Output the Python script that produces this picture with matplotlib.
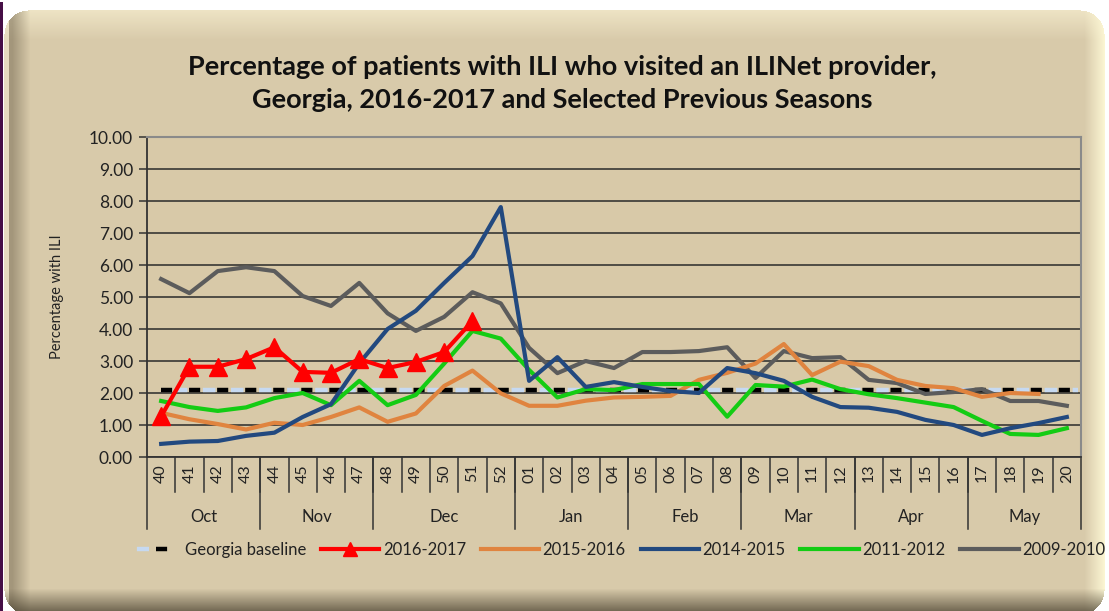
import numpy as np
import matplotlib
matplotlib.use("Agg")
import matplotlib.pyplot as plt
from matplotlib.legend_handler import HandlerTuple

# ---------------- data ----------------
weeks = ["40", "41", "42", "43", "44", "45", "46", "47", "48", "49", "50", "51", "52",
         "01", "02", "03", "04", "05", "06", "07", "08", "09", "10", "11", "12",
         "13", "14", "15", "16", "17", "18", "19", "20"]
months = ["Oct", "Nov", "Dec", "Jan", "Feb", "Mar", "Apr", "May"]
month_weeks = [4, 4, 5, 4, 4, 4, 4, 4]

baseline_value = 2.10

s2016_2017 = [1.27, 2.82, 2.82, 3.06, 3.43, 2.66, 2.63, 3.06, 2.78, 2.97, 3.28, 4.25]

s2015_2016 = [1.38, 1.18, 1.03, 0.86, 1.07, 1.00, 1.25, 1.55, 1.10, 1.36, 2.22, 2.70, 1.99,
              1.60, 1.60, 1.76, 1.86, 1.88, 1.91, 2.41, 2.63, 2.92, 3.53, 2.56, 2.98,
              2.84, 2.41, 2.22, 2.15, 1.88, 2.00, 1.97, None]

s2014_2015 = [0.41, 0.48, 0.50, 0.66, 0.76, 1.25, 1.65, 2.93, 4.00, 4.57, 5.44, 6.28, 7.81,
              2.38, 3.12, 2.19, 2.34, 2.19, 2.06, 2.00, 2.78, 2.62, 2.38, 1.88, 1.56,
              1.54, 1.41, 1.16, 1.00, 0.69, 0.90, 1.06, 1.25]

s2011_2012 = [1.75, 1.56, 1.44, 1.55, 1.84, 2.00, 1.62, 2.38, 1.62, 1.94, 2.92, 3.94, 3.70,
              2.72, 1.86, 2.12, 2.09, 2.28, 2.28, 2.28, 1.26, 2.25, 2.20, 2.42, 2.12,
              1.96, 1.84, 1.70, 1.56, 1.13, 0.72, 0.69, 0.90]

s2009_2010 = [5.56, 5.12, 5.81, 5.93, 5.81, 5.03, 4.72, 5.44, 4.49, 3.94, 4.38, 5.15, 4.80,
              3.41, 2.62, 3.00, 2.78, 3.28, 3.28, 3.31, 3.43, 2.47, 3.31, 3.09, 3.12,
              2.41, 2.31, 1.97, 2.03, 2.12, 1.75, 1.75, 1.60]

series_labels = ["2016-2017", "2015-2016", "2014-2015", "2011-2012", "2009-2010"]

# ---------------- style ----------------
plt.rcParams['font.family'] = ['Lato', 'DejaVu Sans']
plt.rcParams['lines.scale_dashes'] = False

W, H = 1109, 611
fig = plt.figure(figsize=(W / 100, H / 100), dpi=100)
fig.patch.set_facecolor("white")

# decorative bevelled frame (background image)
tan = np.array([216, 202, 170]) / 255.0
img = np.ones((H, W, 3))
yy, xx = np.mgrid[0:H, 0:W].astype(float)
x0, x1, y0, y1, r = 4.0, 1104.0, 10.0, 614.0, 24.0
cx = np.clip(xx, x0 + r, x1 - r)
cy = np.clip(yy, y0 + r, y1 - r)
inside = (np.hypot(xx - cx, yy - cy) <= r) & (xx >= x0) & (xx <= x1) & (yy >= y0) & (yy <= y1)
img[inside] = tan
dl = xx - x0
dr = x1 - xx
dt = yy - y0
db = y1 - yy

def blend(mask_w, color):
    global img
    w = np.clip(mask_w, 0, 1)[..., None] * inside[..., None]
    img = img * (1 - w) + np.array(color) / 255.0 * w

blend(np.where(dt < 30, (1 - dt / 30) * 0.75, 0), [245, 236, 205])
blend(np.where(dr < 20, (1 - dr / 20) * 0.9, 0), [255, 250, 215])
blend(np.where((dl > 4) & (dl < 26), np.clip((26 - dl) / 18, 0, 1) * 0.55, 0), [120, 108, 85])
blend(np.where(dl <= 4, 0.6, 0), [240, 232, 205])
blend(np.where(db < 26, (1 - db / 26) * 0.8, 0), [70, 62, 45])
img[:, 0:3] = np.array([70, 15, 70]) / 255.0
img[0:2, 0:4] = 1.0

bg = fig.add_axes([0, 0, 1, 1], zorder=-10)
bg.imshow(img, aspect="auto", extent=[0, W, H, 0], interpolation="bilinear")
bg.set_axis_off()

# main axes
L, R, T, B = 147, 1081, 137, 457
ax = fig.add_axes([L / W, 1 - B / H, (R - L) / W, (B - T) / H])
ax.set_facecolor("#d8c9a8")

n = len(weeks)
x = np.arange(n)

def to_arr(v):
    return np.array([np.nan if a is None else a for a in v], dtype=float)

colors = {"2016-2017": "#ff0000", "2015-2016": "#e0843f", "2014-2015": "#22497f",
          "2011-2012": "#14cc14", "2009-2010": "#5c5c5c"}

lw = 3.0
l_gray, = ax.plot(x, to_arr(s2009_2010), color=colors["2009-2010"], lw=lw, zorder=3)
l_green, = ax.plot(x, to_arr(s2011_2012), color=colors["2011-2012"], lw=lw, zorder=4)
l_blue, = ax.plot(x, to_arr(s2014_2015), color=colors["2014-2015"], lw=lw, zorder=5)
l_orange, = ax.plot(x, to_arr(s2015_2016), color=colors["2015-2016"], lw=lw, zorder=3.5)

base_y = np.full(n, baseline_value)
xb = np.append(x, n - 0.6)
yb = np.append(base_y, baseline_value)
b1, = ax.plot(xb, yb, color="#c6d9f1", lw=3.2, linestyle=(10.2, (9, 11.2)), zorder=2.6,
              solid_capstyle="butt", dash_capstyle="butt")
b2, = ax.plot(xb, yb, color="black", lw=3.2, linestyle=(0, (8, 12.2)), zorder=2.7,
              dash_capstyle="butt")

xr = np.arange(len(s2016_2017))
l_red, = ax.plot(xr, s2016_2017, color=colors["2016-2017"], lw=lw, marker="^",
                 markersize=13, zorder=6)

ax.set_xlim(-0.5, n - 0.5)
ax.set_ylim(0, 10)
ax.set_yticks(np.arange(0, 10.01, 1))
ax.set_yticklabels([f"{v:.2f}" for v in np.arange(0, 10.01, 1)], fontsize=12.5, color="#222222")
ax.yaxis.grid(True, color="#2a2a2a", lw=1.1)
ax.set_axisbelow(True)
ax.tick_params(axis="y", direction="out", length=6, width=1.1, color="#333333", pad=4)

ax.set_xticks(x)
ax.set_xticklabels(weeks, rotation=90, fontsize=11.5, color="#222222")
ax.tick_params(axis="x", length=0, pad=5)

for s in ["left", "bottom"]:
    ax.spines[s].set_color("#333333")
    ax.spines[s].set_linewidth(1.3)
for s in ["top", "right"]:
    ax.spines[s].set_color("#8a8a8a")
    ax.spines[s].set_linewidth(1.5)

# category separators and month groups
tr = ax.get_xaxis_transform()
axh = B - T
for i in range(1, n):
    ax.plot([i - 0.5, i - 0.5], [0, -35 / axh], transform=tr, color="#333333",
            lw=1.1, clip_on=False)
start = 0
bounds = [-0.5]
for m, cnt in zip(months, month_weeks):
    end = start + cnt
    bounds.append(end - 0.5)
    ax.text((start + end - 1) / 2, -(517 - B) / axh, m, transform=tr, ha="center",
            va="center", fontsize=12, color="#222222")
    start = end
for bx in bounds:
    ax.plot([bx, bx], [0, -72 / axh], transform=tr, color="#333333", lw=1.1, clip_on=False)

ax.set_ylabel("Percentage with ILI", fontsize=10.5, color="#222222", labelpad=18)

fig.text(562 / W, 1 - 83.5 / H,
         "Percentage of patients with ILI who visited an ILINet provider,\nGeorgia, 2016-2017 and Selected Previous Seasons",
         ha="center", va="center", fontsize=19.5, fontweight="bold", linespacing=1.45,
         color="#111111")

handles = [(b1, b2), l_red, l_orange, l_blue, l_green, l_gray]
labels = ["Georgia baseline"] + series_labels
leg = fig.legend(handles, labels, loc="center", bbox_to_anchor=(614 / W, 1 - 550 / H),
                 ncol=6, frameon=False, fontsize=12, handlelength=3.5, handletextpad=0.2,
                 columnspacing=0.9, markerscale=0.75,
                 handler_map={tuple: HandlerTuple(ndivide=None)})
for t in leg.get_texts():
    t.set_color("#222222")

fig.savefig("out.png", dpi=100)
